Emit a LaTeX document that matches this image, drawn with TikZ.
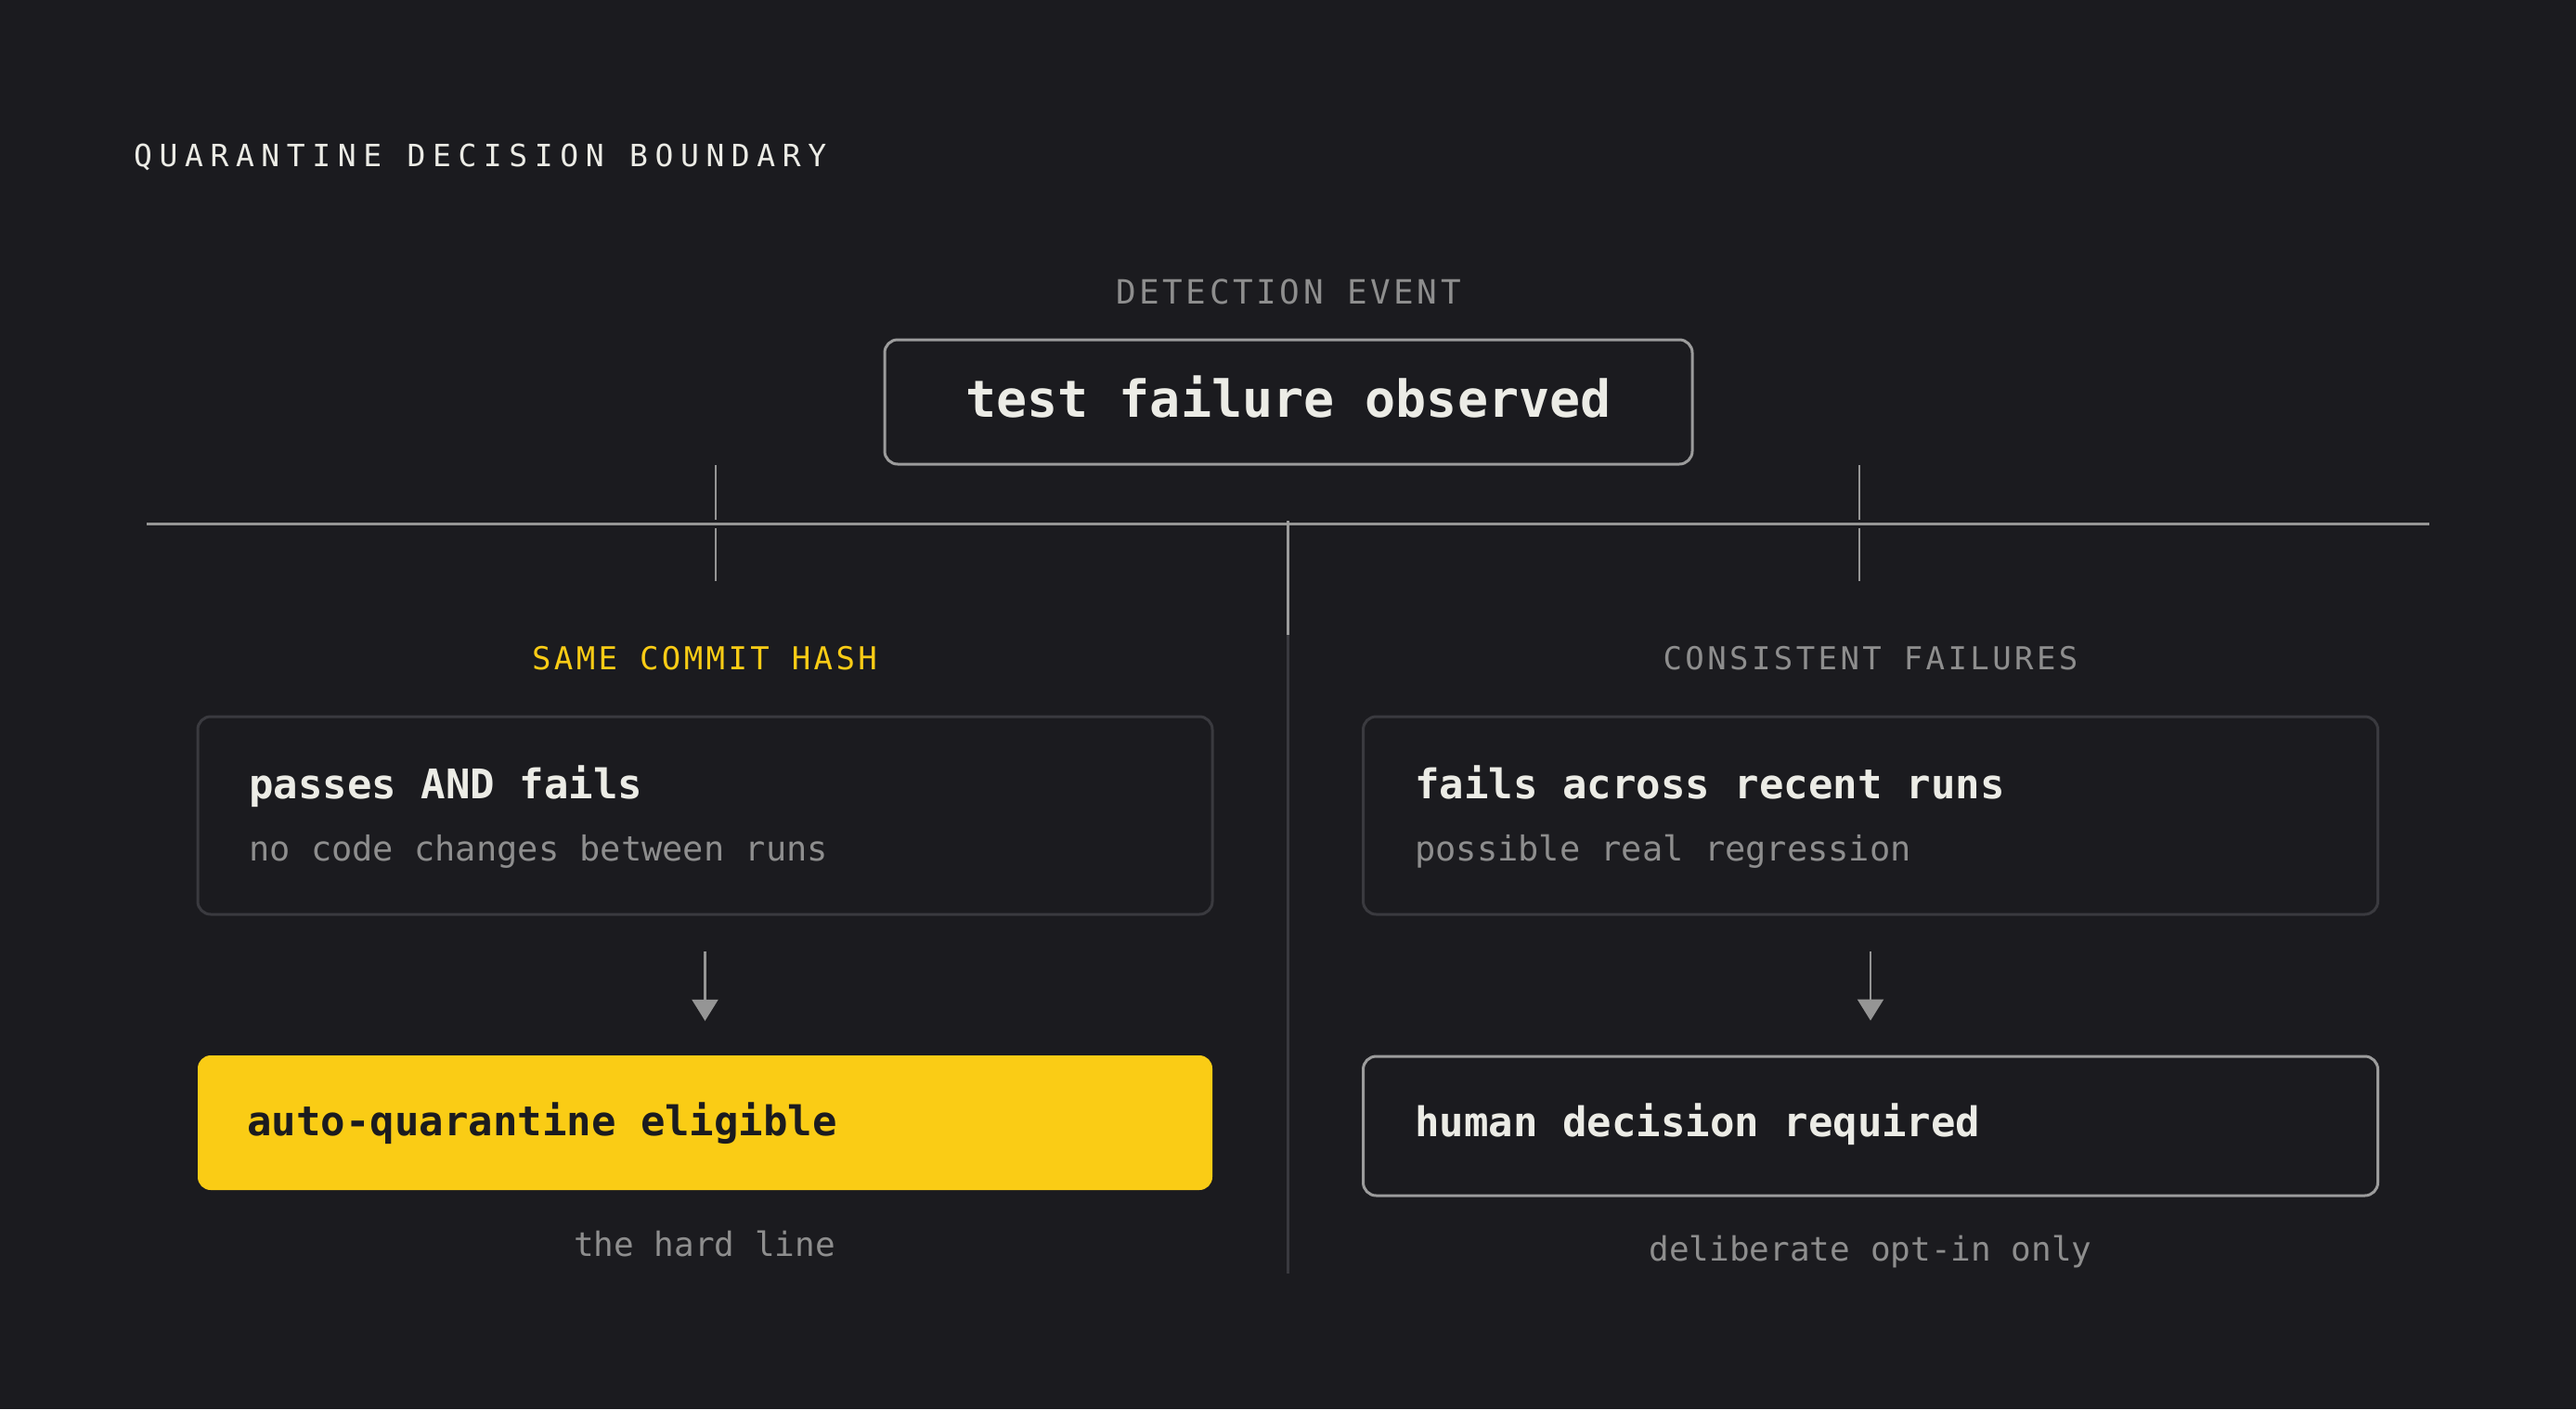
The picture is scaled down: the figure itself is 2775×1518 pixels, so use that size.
\documentclass[tikz,border=0pt]{standalone}
\usepackage{fontspec}
\usetikzlibrary{arrows.meta}
\setmonofont{DejaVu Sans Mono}
\newfontfamily\monowide[LetterSpace=23]{DejaVu Sans Mono}
\newfontfamily\monotrack[LetterSpace=10]{DejaVu Sans Mono}
\definecolor{bgc}{HTML}{1B1B1F}
\definecolor{ink}{HTML}{ECECE6}
\definecolor{muted}{HTML}{8E8E8E}
\definecolor{rulec}{HTML}{959595}
\definecolor{edgedark}{HTML}{3A3A3F}
\definecolor{edgelight}{HTML}{9C9C9C}
\definecolor{signal}{HTML}{FACC15}
\begin{document}
\begin{tikzpicture}[x=1pt,y=-1pt,
  sectlabel/.style={inner sep=0pt,anchor=base,font=\monotrack\fontsize{34}{40}\selectfont},
  headline/.style={inner sep=0pt,anchor=base west,text=ink,font=\ttfamily\bfseries\fontsize{44}{50}\selectfont},
  subline/.style={inner sep=0pt,anchor=base west,text=muted,font=\ttfamily\fontsize{37}{42}\selectfont},
  caption/.style={inner sep=0pt,anchor=base,text=muted,font=\ttfamily\fontsize{36}{42}\selectfont},
  card/.style={draw=edgedark,line width=3pt,rounded corners=14pt,minimum width=1093pt,minimum height=213pt,inner sep=0pt},
  outcome/.style={rounded corners=14pt,minimum width=1093pt,inner sep=0pt}]
\useasboundingbox (0,0) rectangle (2775,1518);
\fill[bgc] (0,0) rectangle (2775,1518);

\node(title) at (144,179)[inner sep=0pt,anchor=base west,text=ink,font=\monowide\fontsize{33}{40}\selectfont] {QUARANTINE DECISION BOUNDARY};

\node(detect) at (1388,327)[sectlabel,text=muted,font=\monotrack\fontsize{36}{42}\selectfont] {DETECTION EVENT};
\node(test) at (1388,433)[draw=edgelight,line width=3pt,rounded corners=14pt,minimum width=870pt,minimum height=134pt,inner sep=0pt] {};
\node(testtext) at (1388,449)[inner sep=0pt,anchor=base,text=ink,font=\ttfamily\bfseries\fontsize{55}{60}\selectfont] {test failure observed};

\coordinate(tl1) at (771,501);
\coordinate(tl2) at (771,626);
\coordinate(tr1) at (2003,501);
\coordinate(tr2) at (2003,626);
\coordinate(hl) at (158,564);
\coordinate(hr) at (2617,564);
\coordinate(divtop) at (1387,561);
\coordinate(divmid) at (1387,684);
\coordinate(divbot) at (1387,1372);

\draw[rulec,line width=2.5pt] (tl1) -- (tl2);
\draw[rulec,line width=2.5pt] (tr1) -- (tr2);
\draw[rulec,line width=3pt,preaction={draw=bgc,line width=9pt}] (hl) -- (hr);
\draw[edgelight,line width=3pt] (divtop) -- (divmid);
\draw[edgedark,line width=3pt] (divmid) -- (divbot);

\node(samehash) at (759,721)[sectlabel,text=signal] {SAME COMMIT HASH};
\node(consistent) at (2015,721)[sectlabel,text=muted] {CONSISTENT FAILURES};

\node(lcard) at (759.5,878.5)[card] {};
\node(rcard) at (2015,878.5)[card] {};
\node(passes) at (268,860)[headline] {passes AND fails};
\node(nochange) at (268,927)[subline] {no code changes between runs};
\node(fails) at (1524,860)[headline] {fails across recent runs};
\node(regress) at (1524,927)[subline] {possible real regression};

\node(lout) at (759.5,1209.5)[outcome,fill=signal,minimum height=145pt] {};
\node(rout) at (2015,1213)[outcome,draw=edgelight,line width=3pt,minimum height=150pt] {};
\node(auto) at (266,1223)[headline,text=bgc] {auto-quarantine eligible};
\node(human) at (1524,1224)[headline] {human decision required};

\path [-{Triangle[width=28pt,length=23pt]},rulec,line width=2.5pt]
  (lcard)  edge [shorten <=38pt,shorten >=37pt]  (lout)
  (rcard)  edge [shorten <=38pt,shorten >=37pt]  (rout);

\node(hardline) at (759,1353)[caption] {the hard line};
\node(optin) at (2015,1358)[caption] {deliberate opt-in only};

\end{tikzpicture}
\end{document}
